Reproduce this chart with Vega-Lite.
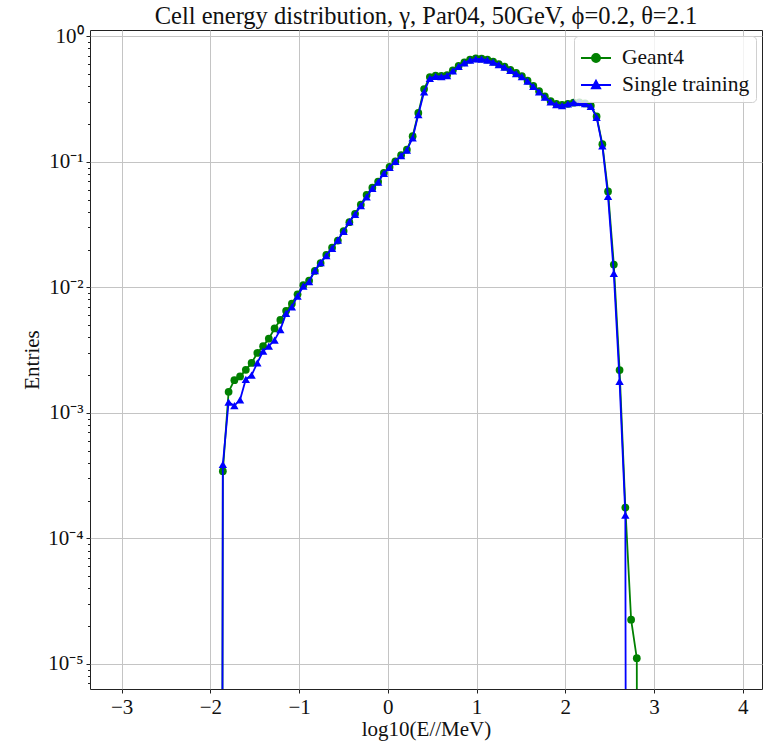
{
  "$schema": "https://vega.github.io/schema/vega-lite/v6.json",
  "width": 672,
  "height": 659,
  "autosize": {"type": "none"},
  "padding": {"left": 90, "top": 30, "right": 8, "bottom": 55},
  "background": "white",
  "title": {"text": "Cell energy distribution, γ, Par04, 50GeV, ϕ=0.2, θ=2.1", "font": "Liberation Serif", "fontSize": 24.5, "fontWeight": "normal", "color": "#111", "offset": 2, "dy": 6},
  "config": {
    "view": {"stroke": "#222", "strokeWidth": 1},
    "axis": {"gridColor": "#c4c4c4", "gridWidth": 1, "domain": false, "tickColor": "#222", "labelFont": "Liberation Serif", "labelFontSize": 21, "labelColor": "#111", "titleFont": "Liberation Serif", "titleFontSize": 21, "titleFontWeight": "normal", "titleColor": "#111"}
  },
  "data": {"values": [
    {"x": -1.924, "Geant4": 1e-30, "Single training": 1e-30},
    {"x": -1.859, "Geant4": 3.43e-4, "Single training": 3.88e-4},
    {"x": -1.794, "Geant4": 1.47e-3, "Single training": 1.22e-3},
    {"x": -1.729, "Geant4": 1.82e-3, "Single training": 1.14e-3},
    {"x": -1.665, "Geant4": 1.95e-3, "Single training": 1.27e-3},
    {"x": -1.600, "Geant4": 2.2e-3, "Single training": 1.85e-3},
    {"x": -1.535, "Geant4": 2.5e-3, "Single training": 2.0e-3},
    {"x": -1.470, "Geant4": 3.0e-3, "Single training": 2.5e-3},
    {"x": -1.405, "Geant4": 3.4e-3, "Single training": 3.1e-3},
    {"x": -1.341, "Geant4": 3.9e-3, "Single training": 3.4e-3},
    {"x": -1.276, "Geant4": 4.7e-3, "Single training": 3.8e-3},
    {"x": -1.211, "Geant4": 5.5e-3, "Single training": 4.6e-3},
    {"x": -1.146, "Geant4": 6.5e-3, "Single training": 6.2e-3},
    {"x": -1.081, "Geant4": 7.4e-3, "Single training": 7.0e-3},
    {"x": -1.017, "Geant4": 8.8e-3, "Single training": 8.5e-3},
    {"x": -0.952, "Geant4": 0.0104, "Single training": 0.0102},
    {"x": -0.887, "Geant4": 0.0113, "Single training": 0.0111},
    {"x": -0.822, "Geant4": 0.0135, "Single training": 0.0136},
    {"x": -0.757, "Geant4": 0.0156, "Single training": 0.0157},
    {"x": -0.693, "Geant4": 0.0181, "Single training": 0.0179},
    {"x": -0.628, "Geant4": 0.0207, "Single training": 0.0204},
    {"x": -0.563, "Geant4": 0.0236, "Single training": 0.0238},
    {"x": -0.498, "Geant4": 0.0281, "Single training": 0.0279},
    {"x": -0.433, "Geant4": 0.0330, "Single training": 0.0333},
    {"x": -0.369, "Geant4": 0.0385, "Single training": 0.0382},
    {"x": -0.304, "Geant4": 0.0455, "Single training": 0.0447},
    {"x": -0.239, "Geant4": 0.0545, "Single training": 0.0525},
    {"x": -0.174, "Geant4": 0.0622, "Single training": 0.0614},
    {"x": -0.109, "Geant4": 0.0695, "Single training": 0.0690},
    {"x": -0.044, "Geant4": 0.0815, "Single training": 0.0810},
    {"x": 0.020, "Geant4": 0.0910, "Single training": 0.0902},
    {"x": 0.085, "Geant4": 0.101, "Single training": 0.101},
    {"x": 0.150, "Geant4": 0.113, "Single training": 0.112},
    {"x": 0.215, "Geant4": 0.125, "Single training": 0.124},
    {"x": 0.280, "Geant4": 0.160, "Single training": 0.155},
    {"x": 0.344, "Geant4": 0.245, "Single training": 0.238},
    {"x": 0.409, "Geant4": 0.380, "Single training": 0.360},
    {"x": 0.474, "Geant4": 0.473, "Single training": 0.463},
    {"x": 0.539, "Geant4": 0.487, "Single training": 0.480},
    {"x": 0.604, "Geant4": 0.484, "Single training": 0.478},
    {"x": 0.668, "Geant4": 0.490, "Single training": 0.486},
    {"x": 0.733, "Geant4": 0.535, "Single training": 0.530},
    {"x": 0.798, "Geant4": 0.580, "Single training": 0.575},
    {"x": 0.863, "Geant4": 0.620, "Single training": 0.615},
    {"x": 0.927, "Geant4": 0.653, "Single training": 0.647},
    {"x": 0.992, "Geant4": 0.667, "Single training": 0.660},
    {"x": 1.057, "Geant4": 0.665, "Single training": 0.659},
    {"x": 1.122, "Geant4": 0.652, "Single training": 0.647},
    {"x": 1.187, "Geant4": 0.627, "Single training": 0.622},
    {"x": 1.251, "Geant4": 0.600, "Single training": 0.595},
    {"x": 1.316, "Geant4": 0.572, "Single training": 0.567},
    {"x": 1.381, "Geant4": 0.540, "Single training": 0.535},
    {"x": 1.446, "Geant4": 0.510, "Single training": 0.505},
    {"x": 1.511, "Geant4": 0.482, "Single training": 0.477},
    {"x": 1.575, "Geant4": 0.443, "Single training": 0.439},
    {"x": 1.640, "Geant4": 0.402, "Single training": 0.398},
    {"x": 1.705, "Geant4": 0.365, "Single training": 0.360},
    {"x": 1.770, "Geant4": 0.332, "Single training": 0.327},
    {"x": 1.835, "Geant4": 0.305, "Single training": 0.300},
    {"x": 1.899, "Geant4": 0.290, "Single training": 0.285},
    {"x": 1.964, "Geant4": 0.284, "Single training": 0.280},
    {"x": 2.029, "Geant4": 0.290, "Single training": 0.289},
    {"x": 2.094, "Geant4": 0.296, "Single training": 0.296},
    {"x": 2.159, "Geant4": 0.298, "Single training": 0.298},
    {"x": 2.223, "Geant4": 0.292, "Single training": 0.291},
    {"x": 2.288, "Geant4": 0.280, "Single training": 0.277},
    {"x": 2.353, "Geant4": 0.230, "Single training": 0.226},
    {"x": 2.418, "Geant4": 0.138, "Single training": 0.134},
    {"x": 2.482, "Geant4": 0.058, "Single training": 0.053},
    {"x": 2.547, "Geant4": 0.0152, "Single training": 0.0129},
    {"x": 2.612, "Geant4": 2.19e-3, "Single training": 1.78e-3},
    {"x": 2.677, "Geant4": 1.76e-4, "Single training": 1.53e-4},
    {"x": 2.742, "Geant4": 2.25e-5, "Single training": 1e-30},
    {"x": 2.806, "Geant4": 1.11e-5, "Single training": 1e-30},
    {"x": 2.871, "Geant4": 1e-30, "Single training": 1e-30}
  ]},
  "transform": [{"fold": ["Geant4", "Single training"], "as": ["series", "v"]}],
  "encoding": {
    "x": {"field": "x", "type": "quantitative",
      "scale": {"domain": [-3.356, 4.217], "zero": false, "nice": false},
      "axis": {"values": [-3, -2, -1, 0, 1, 2, 3, 4], "title": "log10(E//MeV)", "tickSize": 4, "labelPadding": 3, "titlePadding": 1, "grid": true}},
    "y": {"field": "v", "type": "quantitative",
      "scale": {"type": "log", "domain": [6.31e-6, 1.122], "nice": false},
      "axis": {"title": "Entries", "grid": true, "tickSize": {"condition": {"test": "abs(log(datum.value)/LN10 - round(log(datum.value)/LN10)) < 0.001", "value": 4}, "value": 2.5},
        "gridOpacity": {"condition": {"test": "abs(log(datum.value)/LN10 - round(log(datum.value)/LN10)) < 0.001", "value": 1}, "value": 0},
        "labelPadding": 3, "titlePadding": 5,
        "values": [7e-6, 8e-6, 9e-6, 1e-5, 2e-5, 3e-5, 4e-5, 5e-5, 6e-5, 7e-5, 8e-5, 9e-5, 1e-4, 2e-4, 3e-4, 4e-4, 5e-4, 6e-4, 7e-4, 8e-4, 9e-4, 1e-3, 2e-3, 3e-3, 4e-3, 5e-3, 6e-3, 7e-3, 8e-3, 9e-3, 1e-2, 2e-2, 3e-2, 4e-2, 5e-2, 6e-2, 7e-2, 8e-2, 9e-2, 0.1, 0.2, 0.3, 0.4, 0.5, 0.6, 0.7, 0.8, 0.9, 1],
        "labelExpr": "abs(log(datum.value)/LN10 - round(log(datum.value)/LN10)) < 0.001 ? ['10⁰','10⁻¹','10⁻²','10⁻³','10⁻⁴','10⁻⁵'][round(-log(datum.value)/LN10)] : ''"}},
    "color": {"field": "series", "type": "nominal",
      "scale": {"domain": ["Geant4", "Single training"], "range": ["#008000", "#0000ff"]},
      "legend": {"title": null, "orient": "top-right", "offset": 6, "labelFont": "Liberation Serif", "labelFontSize": 21.5, "labelColor": "#111", "labelOffset": 10, "symbolSize": 900, "rowPadding": 0, "padding": 6, "fillColor": "rgba(255,255,255,0.8)", "strokeColor": "#d0d0d0", "cornerRadius": 4, "symbolStrokeWidth": 1.8,
        "encode": {"symbols": {"update": {
          "shape": {"signal": "datum.value === 'Geant4' ? 'M-1,0H1M-0.27,0A0.27,0.27 0 1,0 0.27,0A0.27,0.27 0 1,0 -0.27,0Z' : 'M-1,0H1M0,-0.29L0.28,0.23L-0.28,0.23Z'"},
          "fill": {"scale": "color", "field": "value"},
          "stroke": {"scale": "color", "field": "value"},
          "strokeWidth": {"value": 1.8},
          "opacity": {"value": 1}}}}}}
  },
  "layer": [
    {"transform": [{"filter": "datum.series === 'Geant4'"}], "mark": {"type": "line", "strokeWidth": 1.8, "clip": true}},
    {"transform": [{"filter": "datum.series === 'Geant4' && datum.v > 1e-20"}], "mark": {"type": "point", "shape": "circle", "filled": true, "size": 60, "opacity": 1, "clip": true}},
    {"transform": [{"filter": "datum.series === 'Single training'"}], "mark": {"type": "line", "strokeWidth": 1.8, "clip": true}},
    {"transform": [{"filter": "datum.series === 'Single training' && datum.v > 1e-20"}], "mark": {"type": "point", "shape": "triangle-up", "filled": true, "size": 70, "opacity": 1, "clip": true}}
  ]
}
